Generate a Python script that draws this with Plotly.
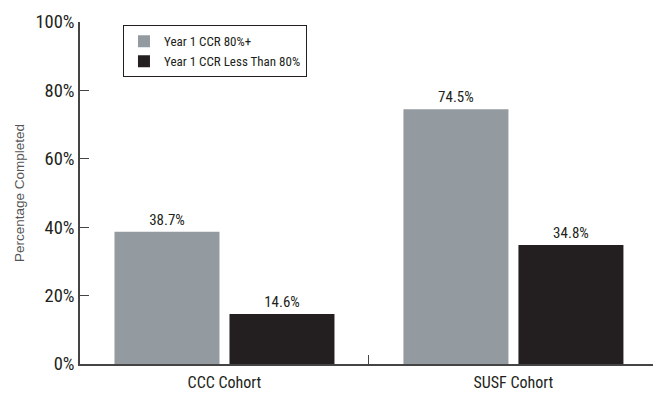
import plotly.graph_objects as go

cohorts = ["CCC Cohort", "SUSF Cohort"]
ccr_80_plus = [38.7, 74.5]
ccr_below_80 = [14.6, 34.8]
series_names = ["Year 1 CCR 80%+", "Year 1 CCR Less Than 80%"]
series_colors = ["#939aa0", "#231f20"]
y_ticks = [0, 20, 40, 60, 80, 100]
y_tick_labels = ["0%", "20%", "40%", "60%", "80%", "100%"]

narrow = "Roboto Condensed, DejaVu Sans Condensed, Liberation Sans Narrow, sans-serif"

fig = go.Figure()
for name, vals, col in zip(series_names, [ccr_80_plus, ccr_below_80], series_colors):
    fig.add_trace(go.Bar(
        x=cohorts, y=vals, name=name, marker=dict(color=col, line=dict(width=0)),
        text=[f"{v:.1f}%" for v in vals], textposition="outside",
        textfont=dict(family=narrow, size=15, color="#231f20"),
        cliponaxis=False,
    ))

fig.update_layout(
    width=653, height=396,
    margin=dict(l=80, r=0, t=22, b=32),
    paper_bgcolor="white", plot_bgcolor="white",
    barmode="group", bargap=0.204, bargroupgap=0.087,
    showlegend=True,
    legend=dict(
        x=0.075, y=0.99, xanchor="left", yanchor="top",
        bordercolor="#231f20", borderwidth=1, bgcolor="white",
        font=dict(family=narrow, size=13, color="#231f20"),
        tracegroupgap=0, itemwidth=30,
    ),
)
fig.update_xaxes(
    range=[-0.5, 1.483], showline=True, linecolor="#444", linewidth=1.5,
    ticks="inside", tickson="boundaries", ticklen=9, tickcolor="#444",
    tickfont=dict(family=narrow, size=16, color="#231f20"),
    ticklabelstandoff=3,
    showgrid=False, zeroline=False,
)
fig.update_yaxes(
    range=[0, 100], tickvals=y_ticks, ticktext=y_tick_labels,
    showline=True, linecolor="#444", linewidth=1.5,
    ticks="inside", ticklen=9, tickcolor="#444",
    tickfont=dict(family=narrow, size=18.5, color="#231f20"),
    showgrid=False, zeroline=False,
    title=dict(text="Percentage Completed", standoff=8,
               font=dict(family="Liberation Sans, Arial, sans-serif", size=13.5, color="#555")),
)

fig.write_html("out.html")
